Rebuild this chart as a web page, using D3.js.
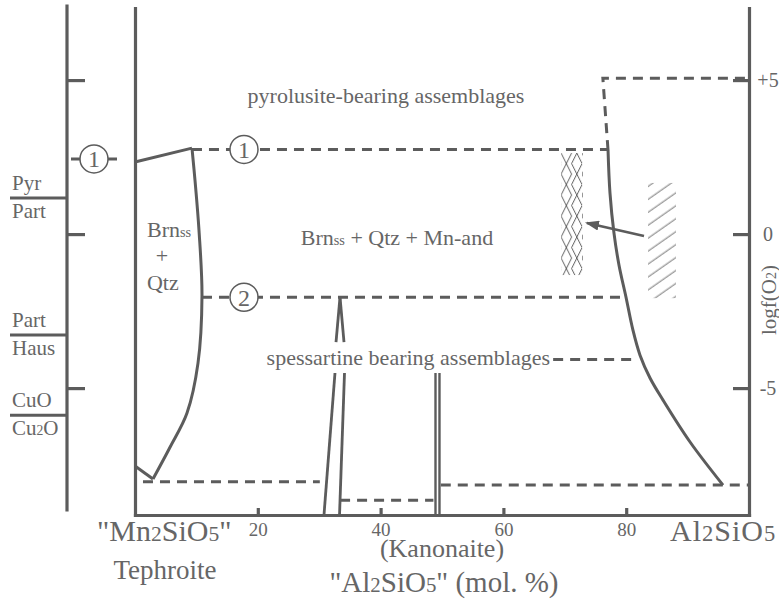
<!DOCTYPE html>
<html>
<head>
<meta charset="utf-8">
<script src="https://cdn.jsdelivr.net/npm/d3@7"></script>
<style>
  body { margin: 0; background: #fff; }
</style>
</head>
<body>
<div id="chart"></div>
<script>
// ---- data (x = "Al2SiO5" mol. %, y = logf(O2)) ----
const xTicks = [20, 40, 60, 80];
const yTicks = [5, 0, -5];
const yTickLabels = ["+5", "0", "-5"];

// buffer pairs on the outer logf(O2) scale: upper, lower, logf(O2)
const bufferUpper = ["Pyr", "Part", "CuO"];
const bufferLower = ["Part", "Haus", "Cu{2}O"];
const bufferLevel = [1.17, -3.28, -5.88];
const outerMarkY = 2.44;

// Brn(ss) + Qtz field boundary
const brnTop = [[0, 2.34], [9.28, 2.79]];
const brnCurve = [[9.28, 2.79], [9.77, 1.75], [10.42, 0.13], [10.91, -2.01], [10.26, -4.19],
  [8.47, -5.81], [5.70, -6.92], [2.93, -7.95]];
const brnBottom = [[2.93, -7.95], [0, -7.53]];

// Mn-andalusite / Al2SiO5 side boundary
const andCurve = [[77.04, 2.73], [77.36, 1.33], [78.01, 0.03], [78.83, -1.01], [79.97, -2.05],
  [81.1, -3.12], [82.25, -3.93], [83.9, -4.68], [86.0, -5.39], [90.4, -6.75], [95.77, -8.15]];
const andUpper = [[77.04, 2.73], [76.2, 5.06], [100, 5.06]];

// reactions 1 and 2
const reactionLabels = ["1", "2"];
const reactionY = [2.75, -2.05];
const reactionX0 = [9.28, 10.91];
const reactionX1 = [77.04, 79.97];
const reactionMarkX = 17.75;

// spessartine field
const spessLine = [[68.1, -4.07], [81.9, -4.07]];
const spessLeft = [[[33.39, -2.05], [32.74, -3.51]], [[32.57, -4.51], [30.78, -9.12]]];
const spessRight = [[[33.39, -2.05], [34.04, -3.51]], [[34.12, -4.51], [33.31, -9.12]]];
const kanonaiteX = [48.94, 49.59];
const kanonaiteY = [-4.51, -9.12];
const bottomDashes = [
  [[1.3, -8.04], [30.1, -8.04]],
  [[33.4, -8.64], [48.6, -8.64]],
  [[49.8, -8.15], [100, -8.15]]
];

// sample fields and arrow [x0, x1, y0, y1]
const latticeBox = [69.4, 72.96, -1.33, 2.63];
const hatchBox = [83.55, 88.11, -2.08, 1.66];
const arrowFrom = [82.9, -0.06];
const arrowTo = [73.6, 0.36];

// field labels: text, x, y, anchor
const fieldLabels = [
  ["pyrolusite-bearing assemblages", 40.88, 4.25, "middle"],
  ["Brn{ss} + Qtz + Mn-and", 27.0, -0.34, "start"],
  ["Brn{ss}", 1.95, -0.10, "start"],
  ["+", 4.4, -0.94, "middle"],
  ["Qtz", 1.95, -1.82, "start"],
  ["spessartine bearing assemblages", 67.6, -4.25, "end"]
];

// ---- chart ----
const W = 779, H = 600;
const ink = "#5c5c5c";
const serif = "'Liberation Serif', 'Times New Roman', Times, serif";

const svg = d3.select("#chart").append("svg")
  .attr("width", W).attr("height", H)
  .attr("font-family", serif)
  .style("fill", "#666");

const x = d3.scaleLinear().domain([0, 100]).range([135, 749]);
const y = d3.scaleLinear().domain([-9.12, 7.34]).range([515, 8]);

const line = d3.line().x(d => x(d[0])).y(d => y(d[1]));
const smooth = d3.line().x(d => x(d[0])).y(d => y(d[1])).curve(d3.curveCatmullRom.alpha(0.5));

// text with {subscript} parts
function rich(g, str, size, sub) {
  const t = g.append("text").attr("font-size", size).attr("fill", "#666");
  str.split(/(\{[^}]*\})/).filter(s => s).forEach(s => {
    if (s[0] == "{") t.append("tspan").attr("font-size", size * (sub || 0.65)).text(s.slice(1, -1));
    else t.append("tspan").text(s);
  });
  return t;
}

const defs = svg.append("defs");

defs.append("marker")
  .attr("id", "head")
  .attr("markerUnits", "userSpaceOnUse")
  .attr("viewBox", "0 0 14 10")
  .attr("refX", 12).attr("refY", 5)
  .attr("markerWidth", 14).attr("markerHeight", 10)
  .attr("orient", "auto")
  .append("path").attr("d", "M0,0L14,5L0,10Z").attr("fill", ink);

// diamond lattice
const lat = defs.append("pattern")
  .attr("id", "lattice")
  .attr("patternUnits", "userSpaceOnUse")
  .attr("x", x(latticeBox[0])).attr("y", y(latticeBox[3]))
  .attr("width", 21).attr("height", 42);
lat.append("path")
  .attr("d", "M0,0L10.5,21L0,42M10.5,0L0,21L10.5,42" +
    "M15.75,0L21,10.5L10.5,31.5L15.75,42M15.75,0L10.5,10.5L21,31.5L15.75,42")
  .attr("fill", "none").attr("stroke", "#333").attr("stroke-width", 0.8);

// diagonal hatch
const hat = defs.append("pattern")
  .attr("id", "hatch")
  .attr("patternUnits", "userSpaceOnUse")
  .attr("width", 10).attr("height", 10.6)
  .attr("patternTransform", "rotate(-35)");
hat.append("path").attr("d", "M0,5H10")
  .attr("stroke", "#666").attr("stroke-width", 0.9);

// axes
const bottom = svg.append("g")
  .attr("transform", `translate(0,${y(-9.12)})`)
  .call(d3.axisBottom(x).tickValues(xTicks).tickSizeInner(-7).tickSizeOuter(0).tickPadding(8));
bottom.attr("font-family", serif).attr("font-size", 19);
bottom.selectAll("text").attr("fill", "#666");

const leftAxis = svg.append("g")
  .attr("transform", `translate(${x(0)},0)`)
  .call(d3.axisLeft(y).tickValues([]).tickSizeOuter(0));

const rightAxis = svg.append("g")
  .attr("transform", `translate(${x(100)},0)`)
  .call(d3.axisRight(y).tickValues(yTicks).tickSizeInner(-16).tickSizeOuter(0)
    .tickFormat(d => yTickLabels[yTicks.indexOf(d)]));
rightAxis.attr("font-family", serif).attr("font-size", 20);
rightAxis.selectAll("text").attr("text-anchor", "middle").attr("x", 19).attr("fill", "#666");

// outer buffer axis
const outer = svg.append("g")
  .attr("transform", "translate(67,0)")
  .call(d3.axisRight(y).tickValues(yTicks).tickSizeInner(18).tickSizeOuter(0).tickFormat(""));
outer.select(".domain").remove();
outer.append("line").attr("y1", 6).attr("y2", 510);

svg.selectAll(".domain, .tick line, g line")
  .attr("stroke", ink).attr("stroke-width", 3.2).attr("stroke-linecap", "square");
svg.selectAll(".tick line").attr("stroke-linecap", "butt");

svg.append("text")
  .attr("transform", `translate(776,300) rotate(-90)`)
  .attr("text-anchor", "middle").attr("font-size", 21).attr("fill", "#666")
  .call(t => { t.append("tspan").text("logf(O"); t.append("tspan").attr("font-size", 14).text("2"); t.append("tspan").text(")"); });

// buffers
bufferLevel.forEach((v, i) => {
  svg.append("line").attr("x1", 10).attr("x2", 67).attr("y1", y(v)).attr("y2", y(v))
    .attr("stroke", ink).attr("stroke-width", 3);
  rich(svg, bufferUpper[i], 21).attr("x", 12).attr("y", y(v) - 8);
  rich(svg, bufferLower[i], 21).attr("x", 12).attr("y", y(v) + 20);
});

svg.append("line").attr("x1", 71).attr("x2", 117)
  .attr("y1", y(outerMarkY)).attr("y2", y(outerMarkY))
  .attr("stroke", ink).attr("stroke-width", 3);

// sample fields
svg.append("rect")
  .attr("x", x(latticeBox[0])).attr("y", y(latticeBox[3]))
  .attr("width", x(latticeBox[1]) - x(latticeBox[0]))
  .attr("height", y(latticeBox[2]) - y(latticeBox[3]))
  .attr("fill", "url(#lattice)");
svg.append("rect")
  .attr("x", x(hatchBox[0])).attr("y", y(hatchBox[3]))
  .attr("width", x(hatchBox[1]) - x(hatchBox[0]))
  .attr("height", y(hatchBox[2]) - y(hatchBox[3]))
  .attr("fill", "url(#hatch)");

const solid = svg.append("g").attr("fill", "none").attr("stroke", ink)
  .attr("stroke-width", 3).attr("stroke-linejoin", "miter");
const dashed = svg.append("g").attr("fill", "none").attr("stroke", ink)
  .attr("stroke-width", 3).attr("stroke-dasharray", "10,7");

solid.append("path").attr("d", line(brnTop));
solid.append("path").attr("d", smooth(brnCurve));
solid.append("path").attr("d", line(brnBottom));
solid.append("path").attr("d", smooth(andCurve));
dashed.append("path").attr("d", line(andUpper));

reactionY.forEach((v, i) => {
  dashed.append("path").attr("d", line([[reactionX0[i], v], [reactionX1[i], v]]));
});

dashed.append("path").attr("d", line(spessLine));
spessLeft.concat(spessRight).forEach(s => solid.append("path").attr("d", line(s)).attr("stroke-width", 2.8));
kanonaiteX.forEach(k => solid.append("path")
  .attr("d", line([[k, kanonaiteY[0]], [k, kanonaiteY[1]]])).attr("stroke-width", 2.4));
bottomDashes.forEach(b => dashed.append("path").attr("d", line(b)));

svg.append("line")
  .attr("x1", x(arrowFrom[0])).attr("y1", y(arrowFrom[1]))
  .attr("x2", x(arrowTo[0])).attr("y2", y(arrowTo[1]))
  .attr("stroke", ink).attr("stroke-width", 2.6)
  .attr("marker-end", "url(#head)");

// circled reaction numbers
const marks = reactionLabels.map((l, i) => [x(reactionMarkX), y(reactionY[i]), l])
  .concat([[94, y(outerMarkY), reactionLabels[0]]]);
marks.forEach(m => {
  svg.append("circle").attr("cx", m[0]).attr("cy", m[1]).attr("r", 14)
    .attr("fill", "#fff").attr("stroke", ink).attr("stroke-width", 1.5);
  svg.append("text").attr("x", m[0]).attr("y", m[1]).attr("dy", "0.35em").attr("fill", "#666")
    .attr("text-anchor", "middle").attr("font-size", 24).text(m[2]);
});

// field labels
fieldLabels.forEach(f => {
  rich(svg, f[0], 22).attr("x", x(f[1])).attr("y", y(f[2])).attr("text-anchor", f[3]);
});

// end members / axis title
rich(svg, "\"Mn{2}SiO{5}\"", 30, 0.72).attr("x", 97).attr("y", 541);
rich(svg, "Tephroite", 27).attr("x", 165).attr("y", 579).attr("text-anchor", "middle");
rich(svg, "(Kanonaite)", 26).attr("x", 442).attr("y", 557).attr("text-anchor", "middle");
rich(svg, "\"Al{2}SiO{5}\" (mol. %)", 29, 0.72).attr("x", 444).attr("y", 592).attr("text-anchor", "middle");
rich(svg, "Al{2}SiO{5}", 30, 0.75).attr("x", 670).attr("y", 541).attr("letter-spacing", 1);
</script>
</body>
</html>
